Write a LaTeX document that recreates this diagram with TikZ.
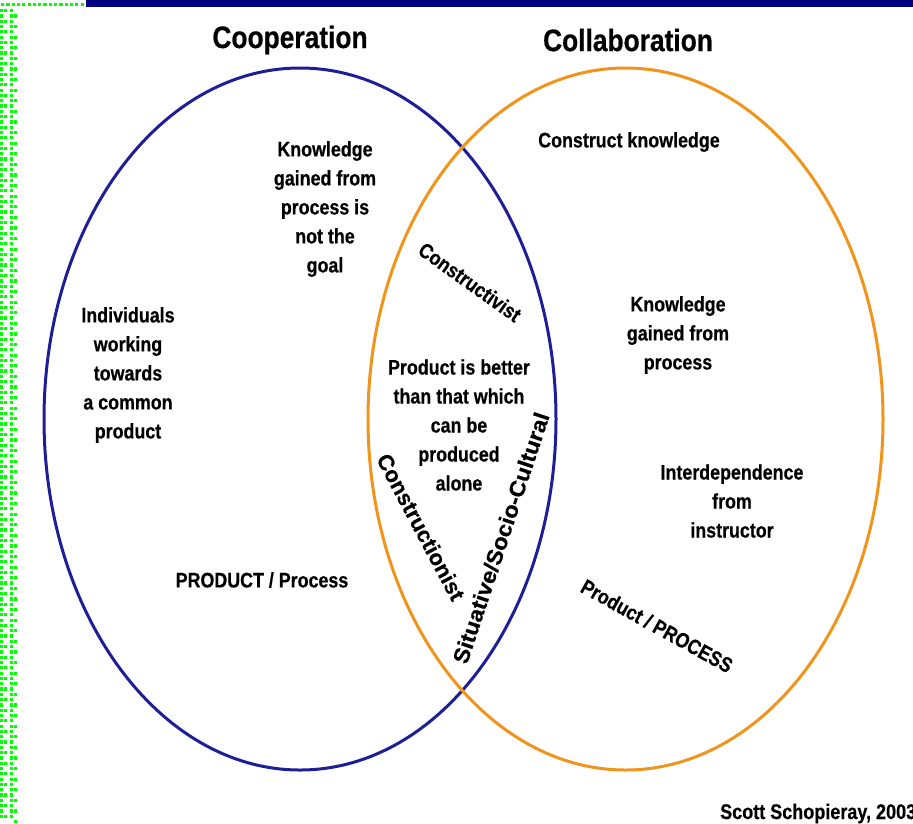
\documentclass[tikz,border=0pt]{standalone}
\usepackage{fontspec}
\setmainfont{Liberation Sans}[FakeStretch=0.85, BoldFeatures={FakeBold=0.5}]
\newfontfamily\widefont{Liberation Sans}[BoldFeatures={FakeBold=0.5}]
\definecolor{coopblue}{RGB}{30,30,150}
\definecolor{collorange}{RGB}{240,148,28}
\definecolor{navybar}{RGB}{0,0,128}
\definecolor{stripgreen}{RGB}{0,255,0}
\begin{document}
\begin{tikzpicture}[x=1pt,y=-1pt,
  txt/.style={font=\bfseries\fontsize{21}{29}\selectfont, align=center, inner sep=0pt},
  widetxt/.style={font=\widefont\bfseries\fontsize{22}{29}\selectfont, inner sep=0pt},
  ttl/.style={font=\bfseries\fontsize{31}{36}\selectfont, inner sep=0pt},
  sq/.style={fill=stripgreen}]
\useasboundingbox (0,0) rectangle (913,823);
\clip (0,0) rectangle (913,823);
% top bar
\fill[navybar] (86,0) rectangle (913,7);
% green checkered strip
\foreach \c in {0,...,15} {
  \fill[sq] (1+\c*5.3,3) rectangle ++(3.2,3.2);
}
\foreach \r in {0,...,152} {
  \pgfmathsetmacro{\yy}{9+\r*5.3}
  \fill[sq] (0,\yy) rectangle ++(2.5,3.2);
  \fill[sq] (9.5,\yy) rectangle ++(3,3.2);
}
\foreach \r in {0,...,76} {
  \pgfmathsetmacro{\yy}{9+\r*10.6}
  \pgfmathsetmacro{\yb}{9+\r*10.6+5.3}
  \fill[sq] (3.5,\yy) rectangle ++(3,3.2);
  \fill[sq] (13.5,\yb) rectangle ++(3.5,3.2);
}
% ellipses
\draw[coopblue, line width=3] (300,419) ellipse [x radius=256, y radius=351];
\draw[collorange, line width=3] (625.5,419) ellipse [x radius=257.5, y radius=351];
% titles
\node[ttl] (coop) at (290,40) {Cooperation};
\node[ttl] (coll) at (628,40) {Collaboration};
% left texts
\node[txt] (kgoal) at (325,209) {Knowledge\\gained from\\process is\\not the\\goal};
\node[txt] (indiv) at (128,375) {Individuals\\working\\towards\\a common\\product};
\node[txt] (prodp) at (262,580) {PRODUCT / Process};
% right texts
\node[txt] (constr) at (629,142) {Construct knowledge};
\node[txt] (kproc) at (678,335) {Knowledge\\gained from\\process};
\node[txt] (inter) at (732,501) {Interdependence\\from\\instructor};
\node[txt, rotate=-29] (procP) at (657,626) {Product / PROCESS};
% middle texts
\node[txt] (better) at (459,425) {Product is better\\than that which\\can be\\produced\\alone};
\node[txt, rotate=-35.5] (cvist) at (470,282) {Constructivist};
\node[widetxt, rotate=-62] (cnist) at (421,527) {Constructionist};
\node[widetxt, rotate=71.6, xscale=1.06] (situ) at (501,538) {Situative/Socio-Cultural};
% credit
\node[txt, font=\bfseries\fontsize{21.2}{29}\selectfont, anchor=base west] (credit) at (720,819) {Scott Schopieray, 2003};
\end{tikzpicture}
\end{document}
